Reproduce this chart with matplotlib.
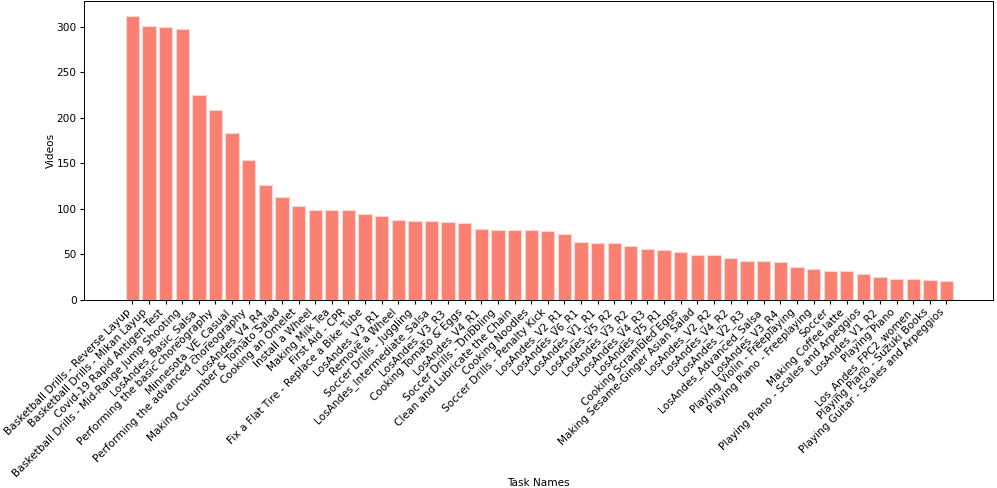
import matplotlib
matplotlib.use("Agg")
import matplotlib.pyplot as plt

plt.rcParams["font.size"] = 7.6
plt.rcParams["xtick.major.size"] = 2.7
plt.rcParams["ytick.major.size"] = 2.7
plt.rcParams["xtick.major.pad"] = 2.7
plt.rcParams["ytick.major.pad"] = 2.7
plt.rcParams["axes.linewidth"] = 0.7

# Task names and number of videos per task
tasks = [
    "Basketball Drills - Reverse Layup",
    "Basketball Drills - Mikan Layup",
    "Covid-19 Rapid Antigen Test",
    "Basketball Drills - Mid-Range Jump Shooting",
    "LosAndes_Basic_Salsa",
    "Performing the basic choreography",
    "Minnesota_VE_Casual",
    "Performing the advanced choreography",
    "LosAndes_V4_R4",
    "Making Cucumber & Tomato Salad",
    "Cooking an Omelet",
    "Install a Wheel",
    "Making Milk Tea",
    "First Aid - CPR",
    "Fix a Flat Tire - Replace a Bike Tube",
    "LosAndes_V3_R1",
    "Remove a Wheel",
    "Soccer Drills - Juggling",
    "LosAndes_Intermediate_Salsa",
    "LosAndes_V3_R3",
    "Cooking Tomato & Eggs",
    "LosAndes_V4_R1",
    "Soccer Drills - Dribbling",
    "Clean and Lubricate the Chain",
    "Cooking Noodles",
    "Soccer Drills - Penalty Kick",
    "LosAndes_V2_R1",
    "LosAndes_V6_R1",
    "LosAndes_V1_R1",
    "LosAndes_V5_R2",
    "LosAndes_V3_R2",
    "LosAndes_V4_R3",
    "LosAndes_V5_R1",
    "Cooking Scrambled Eggs",
    "Making Sesame-Ginger Asian Salad",
    "LosAndes_V2_R2",
    "LosAndes_V4_R2",
    "LosAndes_V2_R3",
    "LosAndes_Advanced_Salsa",
    "LosAndes_V3_R4",
    "Playing Violin - Freeplaying",
    "Playing Piano - Freeplaying",
    "Soccer",
    "Making Coffee latte",
    "Playing Piano - Scales and Arpeggios",
    "LosAndes_V1_R2",
    "Playing Piano",
    "Los_Andes_FPC2_women",
    "Playing Piano - Suzuki Books",
    "Playing Guitar - Scales and Arpeggios",
]
videos = [312, 301, 299, 297, 225, 208, 183, 153, 126, 113,
          103, 99, 98, 98, 94, 92, 87, 86, 86, 85,
          84, 78, 77, 76, 76, 75, 72, 63, 62, 62,
          59, 56, 55, 52, 49, 49, 46, 42, 42, 41,
          36, 34, 31, 31, 28, 25, 23, 23, 22, 21]

fig = plt.figure(figsize=(9.97, 4.88), dpi=100)
ax = fig.add_axes([0.0845, 0.386, 0.9115, 0.611])

ax.bar(tasks, videos, width=0.8, color="salmon", edgecolor="#fdd5cf", linewidth=0.8)
ax.set_xlim(-2.9, 51.8)
ax.set_xticks(range(len(tasks)))
ax.set_xticklabels(tasks, rotation=45, ha="right")
ax.set_xlabel("Task Names")
ax.xaxis.set_label_coords(0.5, -0.597)
ax.set_ylabel("Videos")
ax.yaxis.set_label_coords(-0.031, 0.5)

fig.savefig("out.png", dpi=100)
